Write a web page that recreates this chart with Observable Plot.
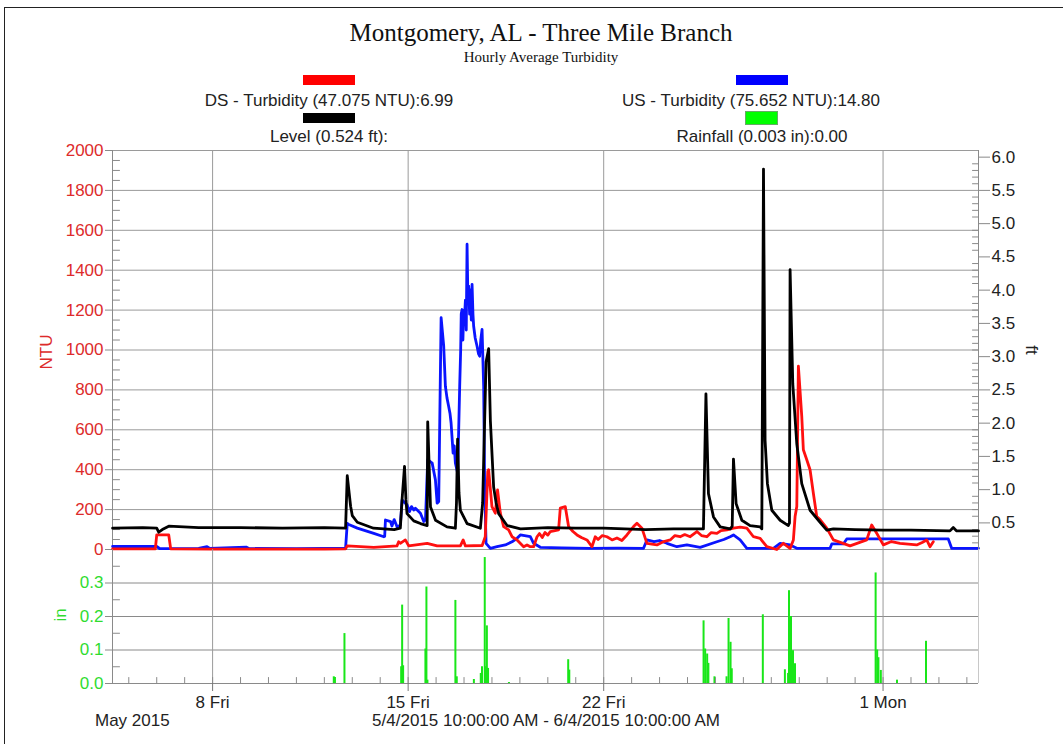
<!DOCTYPE html>
<html>
<head>
<meta charset="utf-8">
<script src="https://cdn.jsdelivr.net/npm/d3@7"></script>
<script src="https://cdn.jsdelivr.net/npm/@observablehq/plot@0.6"></script>
<style>
  html, body { margin: 0; padding: 0; background: #fff; }
  #wrap { position: relative; width: 1063px; height: 744px; overflow: hidden; background: #fff;
          font-family: "Liberation Sans", Arial, sans-serif; color: #222; }
  .abs { position: absolute; white-space: nowrap; }
  .ctr { transform: translate(-50%, -50%); }
  .sw { position: absolute; }
  .layer { position: absolute; left: 0; }
</style>
</head>
<body>
<div id="wrap">
  <div class="abs" style="left:4px;top:7px;width:1200px;height:900px;border-left:1.5px solid #222;border-top:1.5px solid #222;"></div>
  <div class="abs ctr" style="left:541px;top:33px;font-family:'Liberation Serif','Times New Roman',serif;font-size:25px;color:#111;">Montgomery, AL - Three Mile Branch</div>
  <div class="abs ctr" style="left:541px;top:57px;font-family:'Liberation Serif','Times New Roman',serif;font-size:15px;color:#111;">Hourly Average Turbidity</div>

  <div class="sw" style="left:303px;top:75px;width:52px;height:10px;background:#ff0000;"></div>
  <div class="abs ctr" style="left:329px;top:101px;font-size:17px;">DS - Turbidity (47.075 NTU):6.99</div>
  <div class="sw" style="left:303px;top:113px;width:52px;height:10px;background:#000;"></div>
  <div class="abs ctr" style="left:329px;top:137px;font-size:17px;">Level (0.524 ft):</div>

  <div class="sw" style="left:736px;top:75px;width:52px;height:10px;background:#0000ff;"></div>
  <div class="abs ctr" style="left:751px;top:101px;font-size:17px;">US - Turbidity (75.652 NTU):14.80</div>
  <div class="sw" style="left:745px;top:111px;width:31px;height:12px;background:#00ff00;border:1px solid #6a6;"></div>
  <div class="abs ctr" style="left:762px;top:137px;font-size:17px;">Rainfall (0.003 in):0.00</div>

  <div id="top" class="layer" style="top:140px;"></div>
  <div id="lvl" class="layer" style="top:140px;"></div>
  <div id="bot" class="layer" style="top:539px;"></div>

  <div class="abs ctr" style="left:47px;top:352px;font-size:17px;color:#dd2b2b;transform:translate(-50%,-50%) rotate(-90deg);">NTU</div>
  <div class="abs ctr" style="left:61px;top:615px;font-size:17px;color:#2fdc2f;transform:translate(-50%,-50%) rotate(-90deg);">in</div>
  <div class="abs ctr" style="left:1031px;top:350px;font-size:17px;color:#222;transform:translate(-50%,-50%) rotate(90deg);">ft</div>

  <div class="abs" style="left:95px;top:711px;font-size:17px;">May 2015</div>
  <div class="abs ctr" style="left:546px;top:721px;font-size:17px;">5/4/2015 10:00:00 AM - 6/4/2015 10:00:00 AM</div>
</div>
<script>
// ---- time helpers: values are given as decimal day-of-May (32 = June 1) ----
const toDate = d => new Date(Date.UTC(2015, 4, 1) + (d - 1) * 864e5);
const startDay = 4 + 10 / 24;   // 5/4/2015 10:00
const endDay = 35 + 10 / 24;    // 6/4/2015 10:00

// ---- x ticks ----
const xTickDays = [8, 15, 22, 32];
const xTickLabels = ["8 Fri", "15 Fri", "22 Fri", "1 Mon"];

// ---- axis ticks ----
const ntuTicks = [0, 200, 400, 600, 800, 1000, 1200, 1400, 1600, 1800, 2000];
const ftTicks = [0.5, 1.0, 1.5, 2.0, 2.5, 3.0, 3.5, 4.0, 4.5, 5.0, 5.5, 6.0];
const inTicks = [0, 0.1, 0.2, 0.3];

// ---- Level (ft), black ----
const levelSeries = [
  [4.42,0.42],[5.5,0.43],[6.0,0.42],[6.07,0.36],[6.2,0.40],[6.43,0.45],[7.5,0.43],[9,0.43],[10.5,0.42],
  [12.0,0.43],[12.76,0.42],[12.82,1.21],[12.875,1.0],[12.94,0.75],[13.0,0.61],[13.18,0.51],[13.76,0.42],[14.5,0.40],
  [14.72,0.42],[14.78,0.84],[14.87,1.35],[14.92,0.85],[14.96,0.64],[15.2,0.53],[15.44,0.49],[15.68,0.46],[15.70,2.02],
  [15.80,0.74],[15.98,0.54],[16.39,0.44],[16.69,0.42],[16.73,0.80],[16.77,1.76],[16.82,0.95],[16.87,0.69],[17.11,0.49],
  [17.585,0.42],[17.667,0.80],[17.789,2.92],[17.882,3.12],[17.943,2.04],[18.06,1.04],[18.15,0.80],[18.24,0.64],[18.54,0.46],
  [19.02,0.41],[20,0.43],[21,0.42],[22,0.42],[23.5,0.40],[24.5,0.41],[25.57,0.41],[25.66,2.44],[25.75,0.94],
  [25.93,0.59],[26.17,0.44],[26.53,0.41],[26.6,0.45],[26.645,1.46],[26.74,0.79],[26.945,0.54],[27.24,0.46],
  [27.6,0.44],[27.66,0.41],[27.72,5.82],[27.777,1.74],[27.861,1.09],[28.018,0.69],[28.315,0.54],[28.61,0.46],
  [28.65,0.50],[28.672,4.31],[28.769,2.59],[28.912,1.69],[29.09,1.09],[29.387,0.69],[29.745,0.51],[29.985,0.39],
  [30.221,0.41],[31,0.40],[32,0.39],[33,0.39],[34.395,0.38],[34.513,0.43],[34.635,0.38],[35.417,0.38]
];

// ---- US Turbidity (NTU), blue ----
const usSeries = [
  [4.42,15],[6.0,15],[6.1,5],[6.5,4],[7.5,6],[7.8,14],[7.9,5],[9.2,12],[9.3,5],[11,4],[12.0,5],[12.76,6],
  [12.82,131],[12.875,125],[13.18,107],[13.77,81],[14.13,64],[14.16,66],[14.187,148],[14.37,140],[14.42,118],
  [14.5,150],[14.61,112],[14.72,123],[14.785,249],[14.87,236],[14.96,224],[15.05,190],[15.12,215],[15.2,198],[15.26,207],[15.44,182],
  [15.56,140],[15.62,148],[15.70,450],[15.86,433],[15.976,349],[16.037,232],[16.094,240],[16.18,1162],
  [16.273,1019],[16.333,818],[16.39,760],[16.451,717],[16.50,680],[16.537,634],[16.609,483],[16.65,520],
  [16.691,433],[16.773,383],[16.845,818],[16.88,1000],[16.90,1180],[16.931,1203],[16.96,1050],[16.99,1200],
  [17.013,1153],[17.05,1250],[17.08,1100],[17.109,1530],[17.14,1250],[17.167,1320],[17.2,1180],[17.23,1300],
  [17.26,1150],[17.288,1329],[17.32,1180],[17.345,1119],[17.40,1060],[17.467,1019],[17.52,980],[17.56,969],
  [17.60,1050],[17.646,1103],[17.703,818],[17.739,316],[17.789,31],[17.943,6],[18.183,14],[18.479,23],
  [18.719,39],[18.898,56],[19.016,73],[19.373,64],[19.491,31],[19.731,11],[20.5,8],[21.5,6],[22.5,7],
  [23.426,6],[23.547,48],[23.8,40],[24.0,45],[24.263,31],[24.62,14],[24.978,23],[25.453,11],[26.051,39],[26.3,50],[26.526,64],[26.645,73],
  [26.884,48],[27.124,6],[28.075,6],[28.315,31],[28.672,23],[28.912,6],[30.103,6],[30.164,28],[30.579,28],
  [30.7,53],[34.335,53],[34.456,6],[35.417,6]
];

// ---- DS Turbidity (NTU), red ----
const dsSeries = [
  [4.42,3],[5.95,3],[6.0,73],[6.43,73],[6.5,3],[8,2],[10,2],[12,2],[12.76,3],[12.82,18],[13.77,11],[14.6,18],
  [14.66,39],[14.72,31],[14.9,48],[15.02,18],[15.68,31],[16.04,18],[16.87,18],[16.97,48],[17.05,18],[17.65,20],
  [17.76,64],[17.85,391],[17.88,400],[18.0,215],[18.12,182],[18.2,299],[18.3,182],[18.418,115],[18.597,98],
  [18.719,64],[18.898,48],[19.134,14],[19.255,23],[19.373,14],[19.491,14],[19.613,64],[19.7,80],[19.8,60],[19.9,85],[20.0,72],[20.089,90],
  [20.385,98],[20.446,207],[20.625,215],[20.743,115],[20.9,90],[21.044,73],[21.2,60],[21.401,48],[21.58,14],[21.698,64],[21.8,50],[21.95,70],[22.117,64],
  [22.3,48],[22.474,58],[22.65,45],[22.832,73],[23.068,115],[23.19,132],[23.369,107],[23.547,31],[23.905,23],[24.15,40],[24.381,48],[24.55,70],[24.738,64],
  [24.9,75],[25.096,64],[25.336,90],[25.5,70],[25.693,64],[25.85,85],[26.051,81],[26.2,95],[26.409,98],[26.645,107],[26.884,112],[27.124,107],[27.36,64],
  [27.6,56],[27.84,14],[28.197,0],[28.433,31],[28.672,5],[28.79,48],[28.851,165],[28.912,215],[28.969,919],
  [29.09,667],[29.147,500],[29.269,450],[29.387,400],[29.505,282],[29.627,165],[29.745,150],[29.985,107],
  [30.221,48],[30.818,18],[31.415,48],[31.594,123],[31.773,81],[32.009,23],[32.3,40],[32.606,31],[33.203,23],[33.4,35],[33.562,48],
  [33.68,14],[33.798,39]
];

// ---- Rainfall (in), green hourly bars ----
const rainSeries = [
  [12.338,0.02],[12.38,0.018],[12.72,0.149],[14.75,0.05],[14.785,0.234],[14.82,0.053],[15.618,0.103],
  [15.654,0.288],[15.69,0.01],[16.691,0.248],[16.74,0.02],[17.353,0.012],[17.6,0.03],[17.643,0.05],
  [17.742,0.376],[17.78,0.05],[17.818,0.172],[17.86,0.045],[18.608,0.003],[20.729,0.071],[20.768,0.04],
  [25.575,0.187],[25.632,0.103],[25.704,0.088],[25.747,0.06],[25.965,0.02],[26.398,0.02],[26.469,0.194],
  [26.541,0.123],[26.584,0.044],[27.696,0.205],[28.486,0.041],[28.6,0.03],[28.633,0.277],[28.705,0.2],
  [28.776,0.098],[28.848,0.059],[31.734,0.33],[31.79,0.1],[31.834,0.077],[31.92,0.039],[32.5,0.01],[33.537,0.126]
];

const mk = arr => arr.map(([d, v]) => ({t: toDate(d), v}));
const level = mk(levelSeries), us = mk(usSeries), ds = mk(dsSeries), rain = mk(rainSeries);

const xDomain = [toDate(startDay), toDate(endDay)];
const xTicks = xTickDays.map(toDate);
const dayTicks = d3.range(5, 36).map(toDate);
const ntuMinor = d3.range(50, 2000, 50).filter(v => v % 200 !== 0);
const ftMinor = d3.range(2, 61).map(i => i / 10).filter(v => Math.abs(v * 2 - Math.round(v * 2)) > 1e-6);
const inMinor = [0.05, 0.15, 0.25, 0.35];

const RED = "#ff1010", BLUE = "#0a14ff", GREEN = "#19e619";
const RED_TXT = "#dd2b2b", GREEN_TXT = "#2fdc2f";
const GRID = "#9a9a9a", AXIS = "#8a8a8a";
const style = {background: "transparent", overflow: "visible", fontFamily: "'Liberation Sans', Arial, sans-serif", fontSize: "17px"};
const common = {width: 1063, marginLeft: 112, marginRight: 85, style};
// a plain tick stroke drawn as a vector shape
const tickShape = {draw(context, l) { context.moveTo(0, 0); context.lineTo(0, -l); }};
const inner = (vals, ch, anchor, rotate, len) =>
  Plot.vector(vals, {[ch]: d => d, frameAnchor: anchor, rotate, length: len, anchor: "start", shape: tickShape, stroke: AXIS, strokeWidth: 1});

// ---- top panel: NTU ----
const topPlot = Plot.plot({
  ...common, height: 419, marginTop: 10, marginBottom: 10,
  x: {type: "utc", domain: xDomain, axis: null},
  y: {domain: [0, 2000], axis: null},
  marks: [
    Plot.gridY(ntuTicks, {stroke: GRID, strokeOpacity: 1}),
    Plot.gridX(xTicks, {stroke: GRID, strokeOpacity: 1}),
    Plot.ruleX([xDomain[0]], {stroke: AXIS}),
    Plot.axisY(ntuTicks, {anchor: "left", text: null, tickSize: 7, stroke: AXIS, label: null}),
    inner(ntuMinor, "y", "left", 90, 7),
    Plot.axisY(ntuTicks, {anchor: "left", tickSize: 0, tickPadding: 9, color: RED_TXT, fontSize: 17, label: null, tickFormat: d => String(d)}),
    Plot.line(us, {x: "t", y: "v", stroke: BLUE, strokeWidth: 2.8}),
    Plot.line(ds, {x: "t", y: "v", stroke: RED, strokeWidth: 2.8})
  ]
});
document.getElementById("top").appendChild(topPlot);

// ---- overlay: Level (ft), right axis ----
const lvlPlot = Plot.plot({
  ...common, height: 419, marginTop: 10, marginBottom: 10,
  x: {type: "utc", domain: xDomain, axis: null},
  y: {domain: [0.1, 6.1], axis: null},
  marks: [
    Plot.ruleX([xDomain[1]], {stroke: AXIS}),
    Plot.axisY(ftTicks, {anchor: "right", text: null, tickSize: 11, stroke: AXIS, label: null}),
    inner(ftMinor, "y", "right", -90, 6),
    Plot.axisY(ftTicks, {anchor: "right", tickSize: 0, tickPadding: 13, color: "#222", fontSize: 17, label: null, tickFormat: d3.format(".1f")}),
    Plot.line(level, {x: "t", y: "v", stroke: "#000", strokeWidth: 2.8})
  ]
});
document.getElementById("lvl").appendChild(lvlPlot);

// ---- bottom panel: rainfall ----
const botPlot = Plot.plot({
  ...common, height: 204, marginTop: 10, marginBottom: 60,
  x: {type: "utc", domain: xDomain, axis: null},
  y: {domain: [0, 0.4], axis: null},
  marks: [
    Plot.gridY([0.1, 0.2, 0.3], {stroke: "#8a8a8a", strokeOpacity: 1}),
    Plot.gridX(xTicks, {stroke: GRID, strokeOpacity: 1}),
    Plot.ruleX([xDomain[0]], {stroke: AXIS}),
    Plot.ruleX([xDomain[1]], {stroke: "#c8c8c8"}),
    Plot.ruleX(rain, {x: "t", y1: 0, y2: "v", stroke: GREEN, strokeWidth: 2}),
    Plot.ruleY([0], {stroke: AXIS}),
    Plot.axisY(inTicks, {anchor: "left", text: null, tickSize: 7, stroke: AXIS, label: null}),
    inner(inMinor, "y", "left", 90, 7),
    Plot.axisY(inTicks, {anchor: "left", tickSize: 0, tickPadding: 9, color: GREEN_TXT, fontSize: 17, label: null, tickFormat: d3.format(".1f")}),
    inner(dayTicks, "x", "bottom", 0, 6),
    Plot.axisX(xTicks, {anchor: "bottom", text: null, tickSize: 8, stroke: "#777", label: null}),
    Plot.axisX(xTicks, {anchor: "bottom", tickSize: 0, tickPadding: 12, color: "#222", fontSize: 17, label: null,
      tickFormat: (d, i) => xTickLabels[xTicks.findIndex(t => +t === +d)]})
  ]
});
document.getElementById("bot").appendChild(botPlot);
</script>
</body>
</html>
